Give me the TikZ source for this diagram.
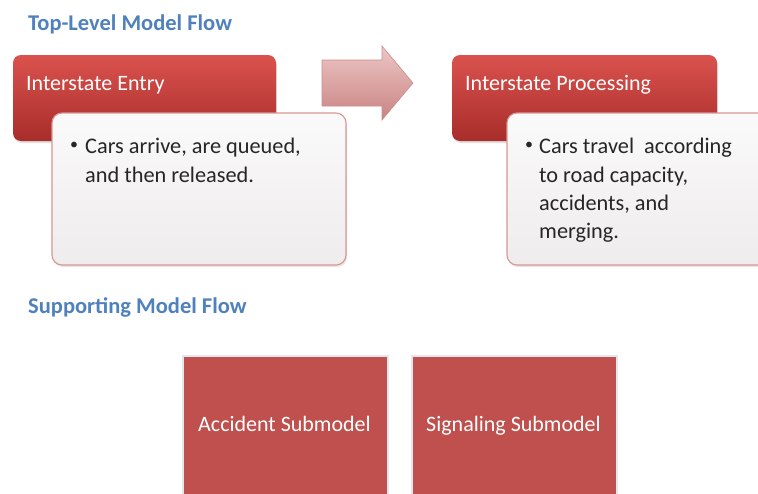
\documentclass[tikz,border=0pt]{standalone}
\usepackage{fontspec}
\setmainfont{Carlito}
\usetikzlibrary{shadows}
\definecolor{ttl}{HTML}{4F81BD}
\definecolor{redtop}{HTML}{DA524E}
\definecolor{redbot}{HTML}{A82D2A}
\definecolor{subred}{HTML}{C0504D}
\definecolor{cardborder}{HTML}{D99694}
\definecolor{cardtop}{HTML}{FBFAFA}
\definecolor{cardbot}{HTML}{EEECEC}
\definecolor{arrtop}{HTML}{EDC6C5}
\definecolor{arrbot}{HTML}{C88482}
\definecolor{arredge}{HTML}{C98F8D}
\definecolor{subedge}{HTML}{E2E7EE}
\tikzset{
  titletext/.style={anchor=base west,inner sep=0pt,text=ttl,font=\fontsize{22.5}{26}\selectfont\bfseries},
  headbox/.style={rounded corners=8pt,top color=redtop,bottom color=redbot,draw=none,
    drop shadow={opacity=0.25,shadow xshift=1pt,shadow yshift=-2pt},inner sep=0pt},
  headtext/.style={anchor=base west,inner sep=0pt,text=white,font=\fontsize{22}{26}\selectfont},
  cardbox/.style={rounded corners=10pt,top color=cardtop,bottom color=cardbot,draw=cardborder,line width=1.1pt,
    drop shadow={opacity=0.2,shadow xshift=1pt,shadow yshift=-2pt},inner sep=0pt},
  cardtext/.style={anchor=base west,inner sep=0pt,text=black!85,font=\fontsize{22.3}{26}\selectfont},
  bulletmark/.style={anchor=center,inner sep=0pt,text=black!85,font=\fontsize{16}{18}\selectfont},
  subbox/.style={fill=subred,draw=subedge,line width=2pt,inner sep=0pt},
  subtext/.style={anchor=base,inner sep=0pt,text=white,font=\fontsize{22}{26}\selectfont},
}
\begin{document}
\begin{tikzpicture}[x=1pt,y=-1pt]
\useasboundingbox (0,0) rectangle (758,493);
\clip (0,0) rectangle (758,493);
\fill[white] (0,0) rectangle (758,493);

% titles
\node[titletext] (t1) at (28,30) {Top-Level Model Flow};
\node[titletext] (t2) at (28,313) {Supporting Model Flow};

% Interstate Entry
\node[headbox,minimum width=263pt,minimum height=86pt] (entry) at (144.5,98) {};
\node[headtext] (entryt) at (26,90.5) {Interstate Entry};
\node[cardbox,minimum width=294pt,minimum height=152pt] (card1) at (199,189) {};
\node[bulletmark] (b1) at (74,146) {\textbullet};
\node[cardtext] (c1a) at (85,153) {Cars arrive, are queued,};
\node[cardtext] (c1b) at (85,182) {and then released.};

% block arrow
\shade[top color=arrtop,bottom color=arrbot,draw=arredge,line width=0.6pt]
  (322,60) -- (382,60) -- (382,46) -- (413,83) -- (382,120) -- (382,106) -- (322,106) -- cycle;

% Interstate Processing
\node[headbox,minimum width=265pt,minimum height=86pt] (proc) at (584.5,98) {};
\node[headtext] (proct) at (465,90.5) {Interstate Processing};
\node[cardbox,minimum width=290pt,minimum height=152pt] (card2) at (652,189) {};
\node[bulletmark] (b2) at (529,146) {\textbullet};
\node[cardtext] (c2a) at (539,153) {Cars travel\ \ according};
\node[cardtext] (c2b) at (539,182) {to road capacity,};
\node[cardtext] (c2c) at (539,210) {accidents, and};
\node[cardtext] (c2d) at (539,238) {merging.};

% submodels
\node[subbox,minimum width=205pt,minimum height=160pt,anchor=north west] (acc) at (182,355) {};
\node[subtext] (acct) at (284.5,431) {Accident Submodel};
\node[subbox,minimum width=205pt,minimum height=160pt,anchor=north west] (sig) at (411,355) {};
\node[subtext] (sigt) at (513.5,431) {Signaling Submodel};
\end{tikzpicture}
\end{document}
